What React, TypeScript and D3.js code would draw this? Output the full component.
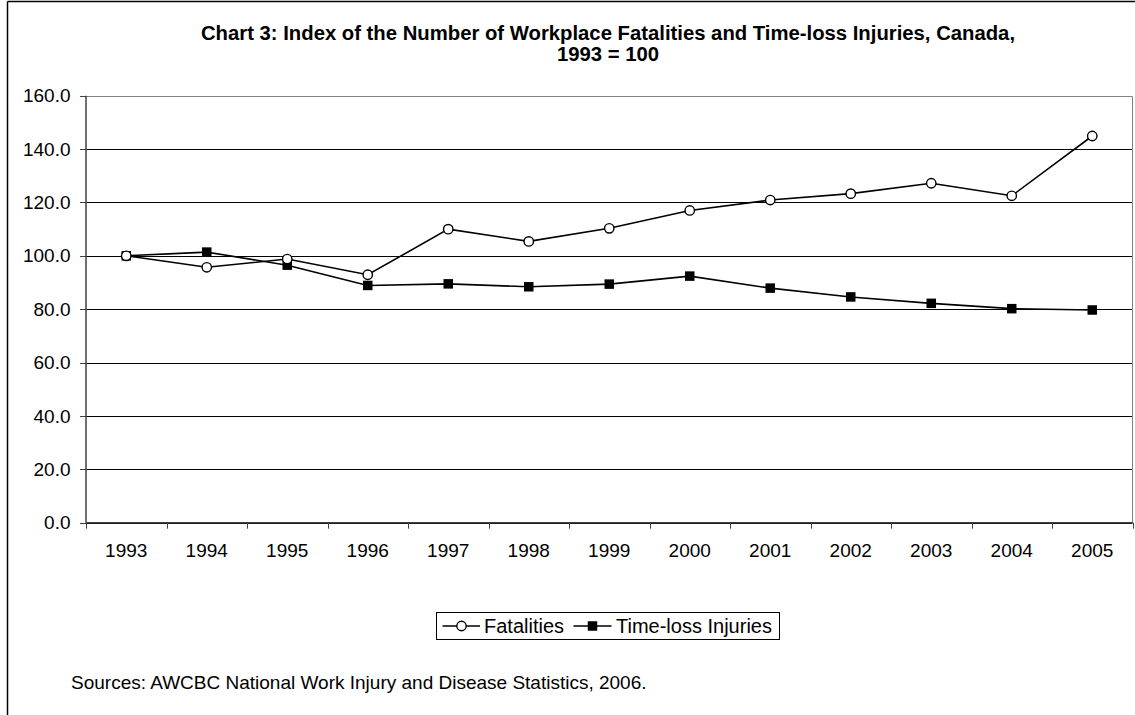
import React from "react";
import * as d3 from "d3";

const years: string[] = ["1993","1994","1995","1996","1997","1998","1999","2000","2001","2002","2003","2004","2005"];
const fatalities: number[] = [100, 95.7, 98.8, 92.9, 110.0, 105.4, 110.3, 117.0, 120.9, 123.3, 127.2, 122.5, 144.9];
const injuries: number[] = [100, 101.4, 96.5, 88.9, 89.5, 88.4, 89.4, 92.4, 87.9, 84.6, 82.2, 80.2, 79.7];
const yTicks: number[] = [0, 20, 40, 60, 80, 100, 120, 140, 160];
const titleLines: string[] = [
  "Chart 3: Index of the Number of Workplace Fatalities and Time-loss Injuries, Canada,",
  "1993 = 100",
];
const sourceText = "Sources: AWCBC National Work Injury and Disease Statistics, 2006.";

const W = 1135;
const H = 715;
const FONT = "'Liberation Sans', Arial, Helvetica, sans-serif";

export default function App() {
  const left = 86;
  const right = 1132.5;
  const top = 95.7;
  const bottom = 522.7;

  const x = d3.scaleBand<string>().domain(years).range([left, right]).padding(0);
  const y = d3.scaleLinear().domain([0, 160]).range([bottom, top]);
  const cx = (yr: string) => (x(yr) as number) + x.bandwidth() / 2;

  const line = d3
    .line<number>()
    .x((_, i) => cx(years[i]))
    .y((d) => y(d));

  const ms = 9.5;
  const r = 4.7;
  const titleX = 608;

  return (
    <svg
      width={W}
      height={H}
      viewBox={`0 0 ${W} ${H}`}
      style={{ position: "absolute", left: 0, top: 0, background: "#fff" }}
    >
      <rect x={0} y={0} width={W} height={H} fill="#fff" />
      {/* outer frame */}
      <line x1={7.5} y1={1.5} x2={W} y2={1.5} stroke="#000" strokeWidth={1.5} />
      <line x1={7.5} y1={1.5} x2={7.5} y2={H} stroke="#000" strokeWidth={1.5} />

      {/* title */}
      {titleLines.map((t, i) => (
        <text
          key={i}
          x={titleX}
          y={40 + i * 21}
          textAnchor="middle"
          fontFamily={FONT}
          fontWeight="bold"
          fontSize={20.3}
          fill="#000"
        >
          {t}
        </text>
      ))}

      {/* gridlines */}
      {yTicks.map((t) => (
        <line
          key={"g" + t}
          x1={left}
          x2={right}
          y1={Math.round(y(t)) + 0.5}
          y2={Math.round(y(t)) + 0.5}
          stroke={t === 160 ? "#808080" : "#000"}
          strokeWidth={1}
        />
      ))}
      {/* plot right border */}
      <line x1={right} x2={right} y1={Math.round(top) + 0.5} y2={Math.round(bottom) + 0.5} stroke="#808080" strokeWidth={1} />

      {/* y axis */}
      <line x1={left} x2={left} y1={top} y2={bottom} stroke="#404040" strokeWidth={1.5} />
      {yTicks.map((t) => (
        <g key={"yt" + t}>
          <line
            x1={left - 6}
            x2={left}
            y1={Math.round(y(t)) + 0.5}
            y2={Math.round(y(t)) + 0.5}
            stroke="#404040"
            strokeWidth={1}
          />
          <text
            x={70.5}
            y={y(t)}
            dy="0.35em"
            textAnchor="end"
            fontFamily={FONT}
            fontSize={19}
            fill="#000"
          >
            {t.toFixed(1)}
          </text>
        </g>
      ))}

      {/* x axis */}
      <line x1={left} x2={right} y1={bottom} y2={bottom} stroke="#404040" strokeWidth={1.5} />
      {years.map((yr) => (
        <line
          key={"xt" + yr}
          x1={Math.round(x(yr) as number) + 0.5}
          x2={Math.round(x(yr) as number) + 0.5}
          y1={bottom}
          y2={bottom + 6}
          stroke="#404040"
          strokeWidth={1}
        />
      ))}
      <line
        x1={Math.round(right) + 0.5}
        x2={Math.round(right) + 0.5}
        y1={bottom}
        y2={bottom + 6}
        stroke="#404040"
        strokeWidth={1}
      />
      {years.map((yr) => (
        <text
          key={"xl" + yr}
          x={cx(yr)}
          y={557}
          textAnchor="middle"
          fontFamily={FONT}
          fontSize={19}
          fill="#000"
        >
          {yr}
        </text>
      ))}

      {/* series lines */}
      <path d={line(fatalities) || ""} fill="none" stroke="#000" strokeWidth={1.6} />
      <path d={line(injuries) || ""} fill="none" stroke="#000" strokeWidth={1.6} />

      {/* markers */}
      {injuries.map((v, i) => (
        <rect
          key={"sq" + i}
          x={cx(years[i]) - ms / 2}
          y={y(v) - ms / 2}
          width={ms}
          height={ms}
          fill="#000"
        />
      ))}
      {fatalities.map((v, i) => (
        <circle
          key={"c" + i}
          cx={cx(years[i])}
          cy={y(v)}
          r={r}
          fill="#fff"
          stroke="#000"
          strokeWidth={1.4}
        />
      ))}

      {/* legend */}
      <rect x={436.5} y={612.5} width={343} height={27} fill="#fff" stroke="#000" strokeWidth={1} />
      <line x1={442.5} x2={480} y1={626} y2={626} stroke="#000" strokeWidth={1.6} />
      <circle cx={461.5} cy={626} r={r} fill="#fff" stroke="#000" strokeWidth={1.4} />
      <text x={484} y={632.5} fontFamily={FONT} fontSize={20} fill="#000">
        Fatalities
      </text>
      <line x1={573.5} x2={611.5} y1={626} y2={626} stroke="#000" strokeWidth={1.6} />
      <rect x={592.5 - ms / 2} y={626 - ms / 2} width={ms} height={ms} fill="#000" />
      <text x={616} y={632.5} fontFamily={FONT} fontSize={20} fill="#000">
        Time-loss Injuries
      </text>

      {/* source */}
      <text x={71} y={689} fontFamily={FONT} fontSize={19} fill="#000">
        {sourceText}
      </text>
    </svg>
  );
}
